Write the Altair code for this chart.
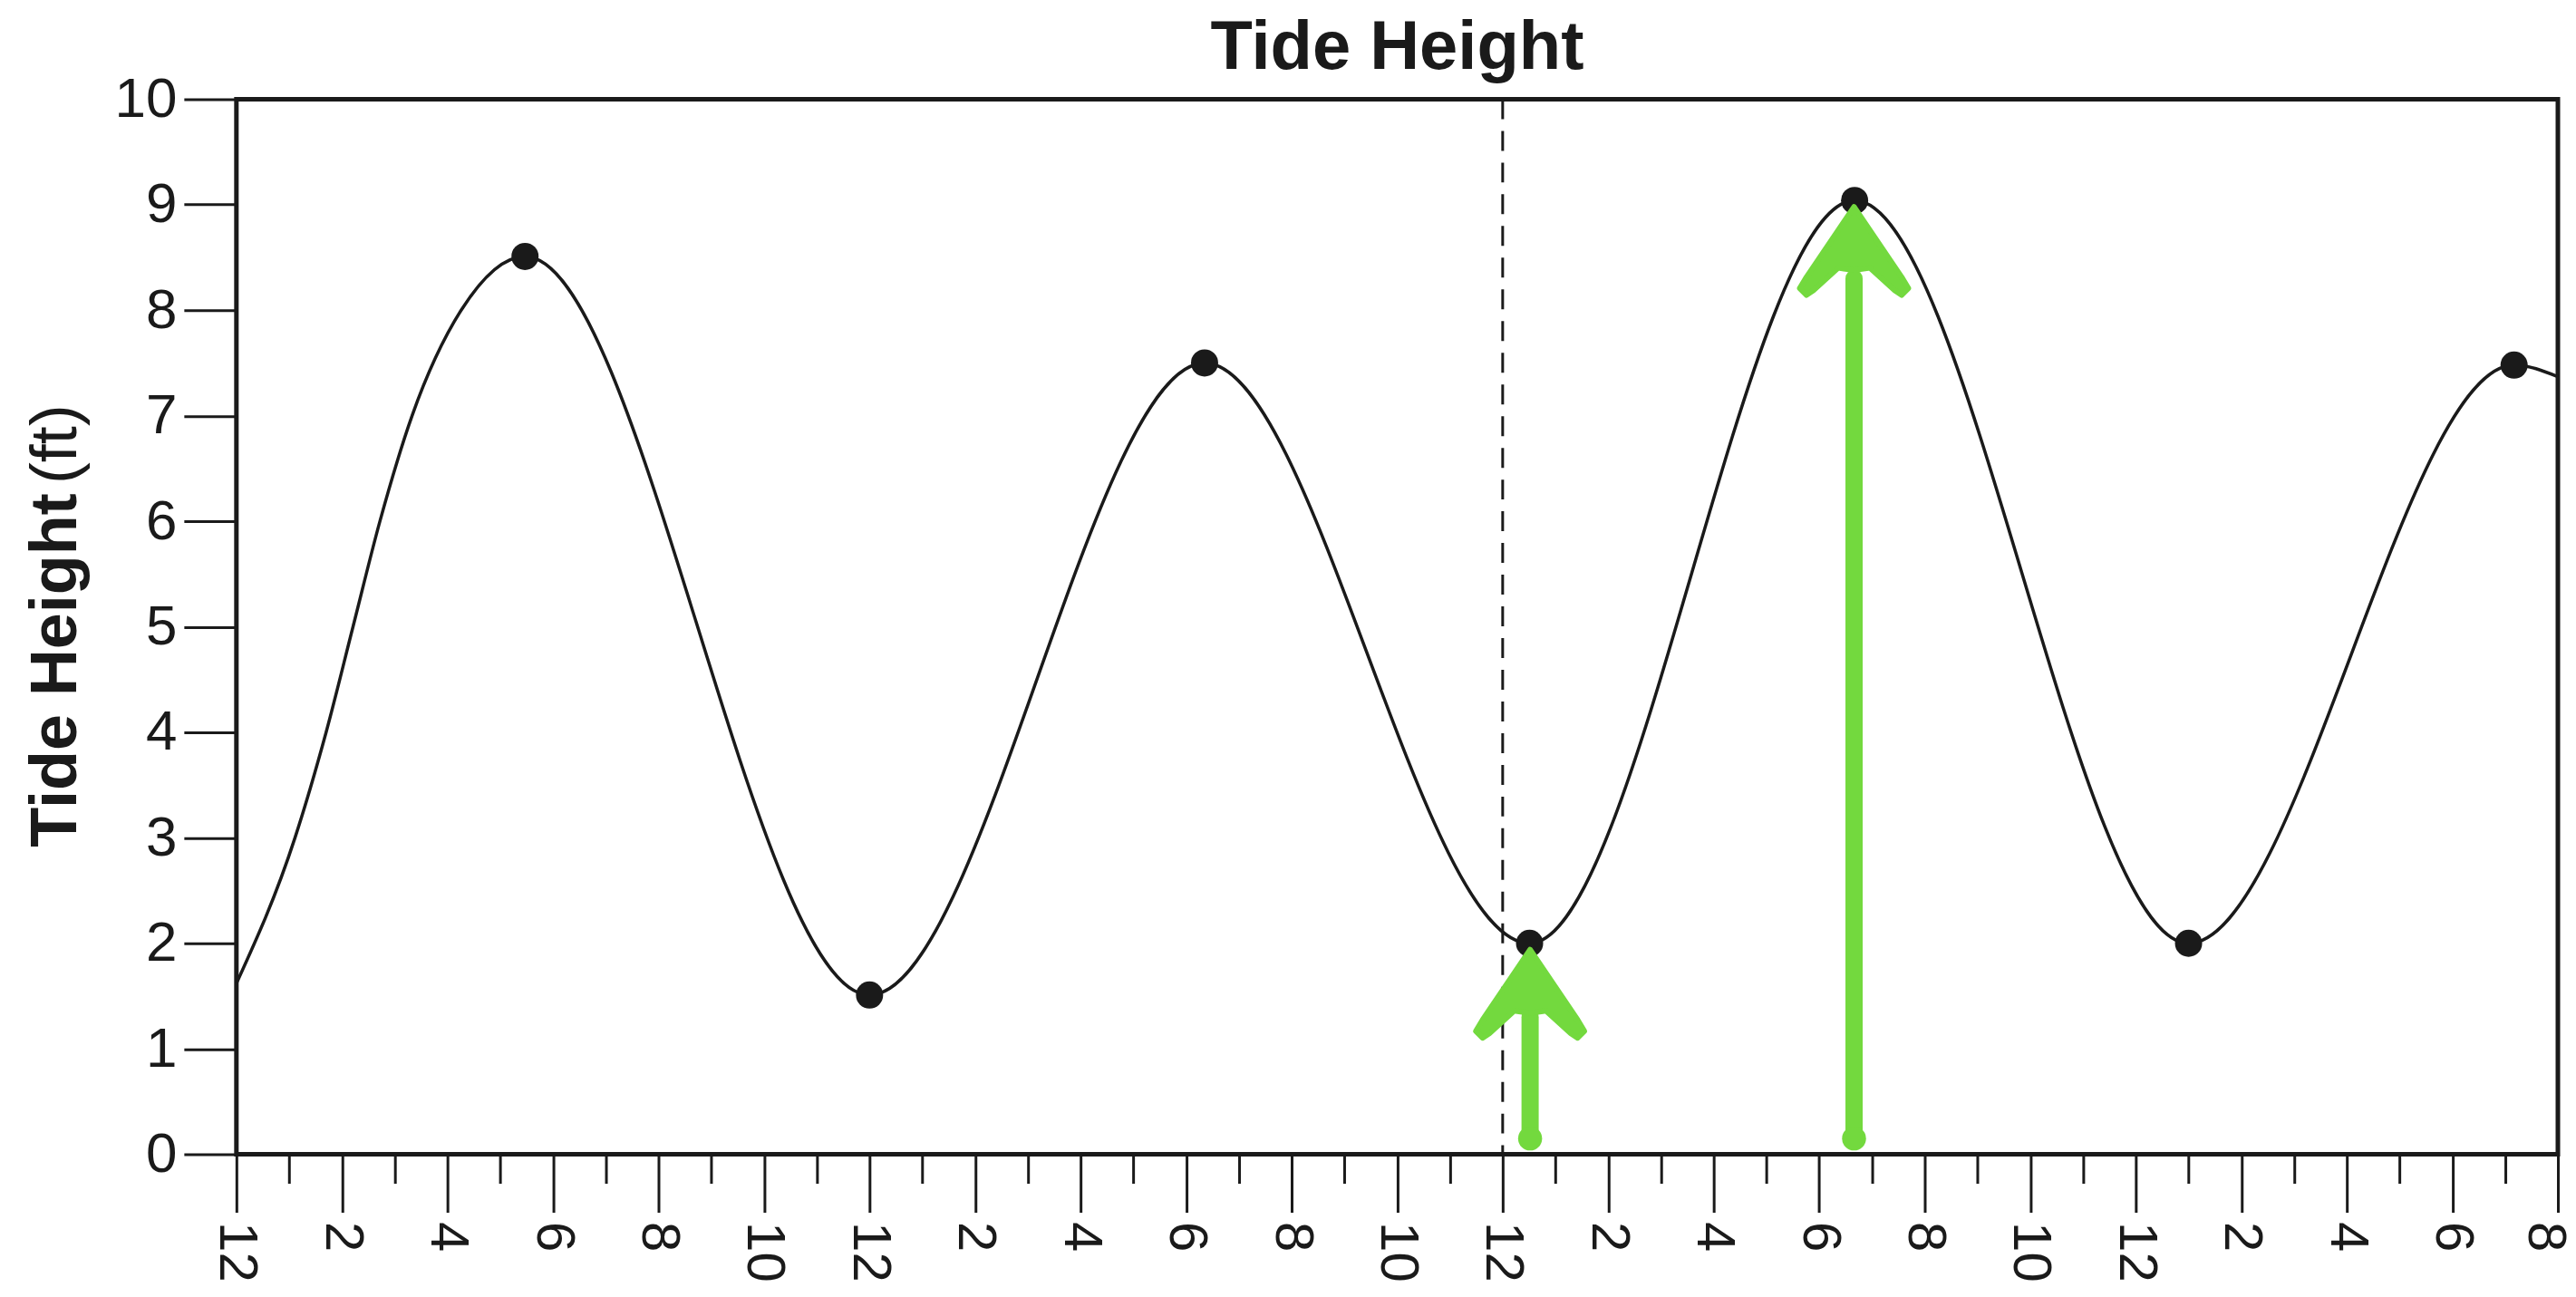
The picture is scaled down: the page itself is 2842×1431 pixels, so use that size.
import json
import altair as alt
import pandas as pd

FONT = "Liberation Sans"
INK = "#1a1a1a"
GREEN = "#73D93E"

# ---- data ----
# tide curve: hour since midnight (0..44) and height in ft
curve_hours = [0.0, 1.11, 1.70, 2.21, 2.72, 3.33, 4.26, 5.47,
               12.0, 18.35, 24.51, 30.67, 37.0, 43.17, 44.0]
curve_heights = [1.62, 3.0, 4.0, 5.0, 6.0, 7.0, 8.0, 8.51,
                 1.51, 7.50, 2.00, 9.04, 2.00, 7.48, 7.37]

# high / low tide dots
extreme_hours = [5.47, 12.0, 18.35, 24.51, 30.67, 37.0, 43.17]
extreme_heights = [8.51, 1.51, 7.50, 2.00, 9.04, 2.00, 7.48]

# dashed marker (midnight)
marker_hours = [24.0]

# green arrows
arrow_hours = [24.52, 30.66]
arrow_base = [0.15, 0.15]
arrow_tip = [1.94, 8.98]
arrow_shaft_top = [1.3, 8.3]

# axis ticks / labels
x_tick_values = list(range(0, 45))
x_tick_labels = ["12", "2", "4", "6", "8", "10", "12", "2", "4", "6", "8", "10",
                 "12", "2", "4", "6", "8", "10", "12", "2", "4", "6", "8"]
y_tick_values = list(range(0, 11))

curve_df = pd.DataFrame({"hour": curve_hours, "height": curve_heights})
dots_df = pd.DataFrame({"hour": extreme_hours, "height": extreme_heights})
marker_df = pd.DataFrame({"hour": marker_hours})
arrow_df = pd.DataFrame({"hour": arrow_hours, "base": arrow_base,
                         "tip": arrow_tip, "shaft_top": arrow_shaft_top})
unit_df = pd.DataFrame({"t": ["(ft)"]})

label_expr = ("datum.value % 2 === 0 ? " + json.dumps(x_tick_labels)
              + "[datum.value / 2] : ''")

x_scale = alt.Scale(domain=[0, 44], nice=False, zero=False)
y_scale = alt.Scale(domain=[0, 10], nice=False, zero=False)

x_axis = alt.Axis(
    values=x_tick_values, labelExpr=label_expr, labelAngle=90,
    labelAlign="left", labelBaseline="middle",
    labelFontSize=60, labelFont=FONT, labelColor=INK, labelPadding=10,
    labelOverlap=False, labelFlush=False, labelBound=False,
    labelOffset={"condition": {"test": "datum.value === 44", "value": -15}, "value": 0},
    tickSize={"condition": {"test": "datum.value % 2 === 0", "value": 64}, "value": 32},
    tickWidth=3, tickColor=INK, domain=False, grid=False, title=None,
)
y_axis = alt.Axis(
    values=y_tick_values, format="d", labelFontSize=62, labelFont=FONT,
    labelColor=INK, labelPadding=8, tickSize=58, tickWidth=3, tickColor=INK,
    domain=False, grid=False,
    title="Tide Height", titleFont=FONT, titleFontSize=72, titleFontWeight="bold",
    titleColor=INK, titleAngle=270, titleAlign="center", titleBaseline="alphabetic",
    titleX=-177, titleY=630,
)

base = alt.Chart(curve_df)

curve = base.mark_line(interpolate="monotone", strokeWidth=3.5, color=INK).encode(
    x=alt.X("hour:Q", scale=x_scale, axis=x_axis),
    y=alt.Y("height:Q", scale=y_scale, axis=y_axis),
)

marker = alt.Chart(marker_df).mark_rule(
    strokeDash=[22, 13], strokeWidth=3, color=INK
).encode(x=alt.X("hour:Q", scale=x_scale))

dots = alt.Chart(dots_df).mark_circle(size=900, color=INK, opacity=1).encode(
    x=alt.X("hour:Q", scale=x_scale), y=alt.Y("height:Q", scale=y_scale)
)

shaft = alt.Chart(arrow_df).mark_rule(
    strokeWidth=19, strokeCap="round", color=GREEN
).encode(
    x=alt.X("hour:Q", scale=x_scale),
    y=alt.Y("base:Q", scale=y_scale),
    y2="shaft_top:Q",
)

bulb = alt.Chart(arrow_df).mark_circle(size=700, color=GREEN, opacity=1).encode(
    x=alt.X("hour:Q", scale=x_scale), y=alt.Y("base:Q", scale=y_scale)
)

HEAD = ("M0,0 L1.05,1.55 L1.2,1.8 L1.05,1.95 L0.9,1.85 L0.35,1.35 L0,1.4 "
        "L-0.35,1.35 L-0.9,1.85 L-1.05,1.95 L-1.2,1.8 L-1.05,1.55 Z")
head = alt.Chart(arrow_df).mark_point(
    shape=HEAD, size=10000, filled=True, fill=GREEN, stroke=GREEN,
    strokeWidth=6, strokeJoin="round", opacity=1
).encode(
    x=alt.X("hour:Q", scale=x_scale), y=alt.Y("tip:Q", scale=y_scale)
)

unit = alt.Chart(unit_df).mark_text(
    angle=270, font=FONT, fontSize=72, color=INK, align="center",
    baseline="alphabetic"
).encode(text="t:N", x=alt.value(-177), y=alt.value(381))

chart = alt.layer(curve, marker, dots, shaft, bulb, head, unit).properties(
    width=2563, height=1165,
    title=alt.TitleParams(
        "Tide Height", font=FONT, fontSize=76, fontWeight="bold", color=INK,
        anchor="middle", frame="group", offset=18, dy=32,
    ),
    autosize=alt.AutoSizeParams(type="none"),
    padding={"left": 253, "top": 101, "right": 12, "bottom": 145},
).configure_view(stroke=INK, strokeWidth=5)

chart.save("out.html", embed_options={"renderer": "svg", "actions": False})
